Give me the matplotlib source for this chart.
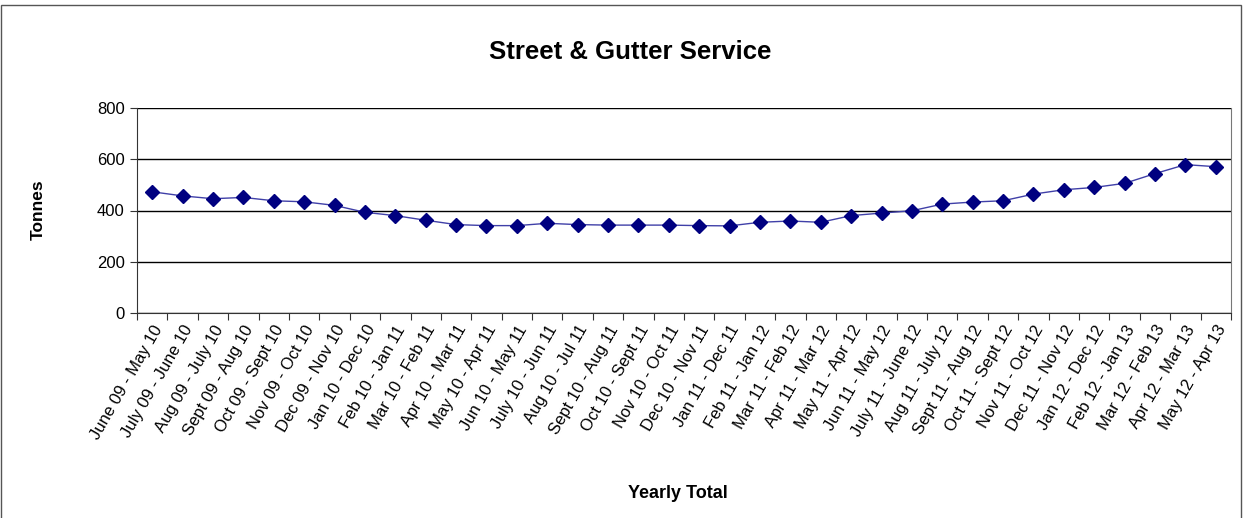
import matplotlib
matplotlib.use("Agg")
import matplotlib.pyplot as plt
from matplotlib.patches import Rectangle

plt.rcParams['font.family'] = ['Liberation Sans', 'DejaVu Sans']

periods = [
    "June 09 - May 10", "July 09 - June 10", "Aug 09 - July 10", "Sept 09 - Aug 10",
    "Oct 09 - Sept 10", "Nov 09 - Oct 10", "Dec 09 - Nov 10", "Jan 10 - Dec 10",
    "Feb 10 - Jan 11", "Mar 10 - Feb 11", "Apr 10 - Mar 11", "May 10 - Apr 11",
    "Jun 10 - May 11", "July 10 - Jun 11", "Aug 10 - Jul 11", "Sept 10 - Aug 11",
    "Oct 10 - Sept 11", "Nov 10 - Oct 11", "Dec 10 - Nov 11", "Jan 11 - Dec 11",
    "Feb 11 - Jan 12", "Mar 11 - Feb 12", "Apr 11 - Mar 12", "May 11 - Apr 12",
    "Jun 11 - May 12", "July 11 - June 12", "Aug 11 - July 12", "Sept 11 - Aug 12",
    "Oct 11 - Sept 12", "Nov 11 - Oct 12", "Dec 11 - Nov 12", "Jan 12 - Dec 12",
    "Feb 12 - Jan 13", "Mar 12 - Feb 13", "Apr 12 - Mar 13", "May 12 - Apr 13",
]
tonnes = [
    473, 457, 446, 451, 438, 434, 420, 393, 380, 362, 345, 341,
    341, 350, 345, 343, 343, 343, 341, 340, 354, 359, 354, 380,
    390, 399, 425, 433, 438, 464, 481, 490, 506, 544, 579, 571,
]
y_ticks = [0, 200, 400, 600, 800]

fig = plt.figure(figsize=(12.48, 5.18), dpi=100)
fig.patches.append(Rectangle((1/1248, -0.01), 1240/1248, 1 - 5/518 + 0.01,
                             transform=fig.transFigure, fill=False,
                             edgecolor='#555555', linewidth=1))
ax = fig.add_axes([137/1248, 1 - 313/518, (1231 - 137)/1248, 205/518])

x = [i + 0.5 for i in range(len(periods))]
ax.plot(x, tonnes, color='#4040a8', linewidth=1.0, marker='D', markersize=7,
        markerfacecolor='#000080', markeredgecolor='#000080', zorder=3)

ax.set_xlim(0, len(periods))
ax.set_ylim(0, 800)
ax.set_yticks(y_ticks)
ax.set_yticklabels([str(v) for v in y_ticks], fontsize=12)
ax.yaxis.grid(True, color='black', linewidth=1)
ax.set_axisbelow(True)

ax.set_xticks(range(len(periods) + 1))
ax.set_xticklabels([])
ax.tick_params(axis='x', which='major', length=5, direction='out', color='#333333')
ax.set_xticks(x, minor=True)
ax.set_xticklabels(periods, minor=True, rotation=60, ha='right',
                   rotation_mode='anchor', fontsize=12)
ax.tick_params(axis='x', which='minor', length=0, pad=7)
ax.tick_params(axis='y', length=5, direction='out', color='#333333', pad=4)

for s in ['left', 'bottom']:
    ax.spines[s].set_color('#333333')
ax.spines['right'].set_color('#777777')
ax.spines['top'].set_visible(False)

fig.text(630/1248, 1 - 52/518, "Street & Gutter Service", ha='center', va='center',
         fontsize=18.5, fontweight='bold')
fig.text(38/1248, 1 - 210/518, "Tonnes", ha='center', va='center',
         rotation=90, fontsize=12.5, fontweight='bold')
fig.text(678/1248, 1 - 493/518, "Yearly Total", ha='center', va='center',
         fontsize=13, fontweight='bold')

fig.savefig("out.png", dpi=100)
